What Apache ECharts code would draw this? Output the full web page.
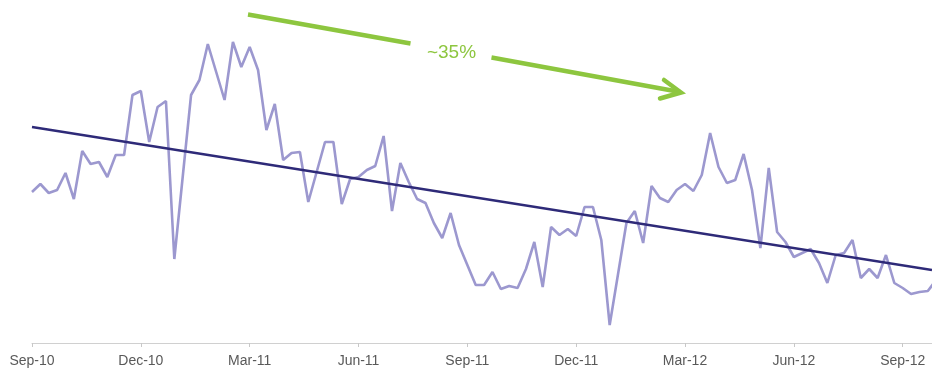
<!DOCTYPE html>
<html>
<head>
<meta charset="utf-8">
<script src="https://cdn.jsdelivr.net/npm/echarts@6/dist/echarts.min.js"></script>
<style>
html,body{margin:0;padding:0;background:#fff;}
#c{width:932px;height:371px;}
</style>
</head>
<body>
<div id="c"></div>
<script>
// Weekly index values (week 0 = start of Sep-10)
var weeklyValues = [151,159,150,153,170,144,192,179,181,166,188,188,248,252,201,236,242,84,166,248,
263,299,271,243,301,276,296,273,213,239,183,190,191,141,171,201,201,139,164,166,
173,177,207,132,180,161,144,140,120,105,130,98,78,58,58,71,54,57,55,74,
101,56,116,108,114,107,136,136,103,18,69,120,132,100,157,145,141,153,159,152,
168,210,176,160,163,189,153,95,175,111,101,86,90,94,80,60,88,90,103,65,
74,65,88,60,55,49,51,52,63];
// Linear trend endpoints: [week, value]
var trendWeeks = [0, 107.5];
var trendValues = [216, 73];
// Quarterly tick labels (every 13 weeks)
var tickLabels = ['Sep-10','Dec-10','Mar-11','Jun-11','Sep-11','Dec-11','Mar-12','Jun-12','Sep-12'];
var annotationText = '~35%';

var weeksPerQuarter = 13;
var tickValues = tickLabels.map(function(_, i){ return i * weeksPerQuarter; });
var seriesData = weeklyValues.map(function(v, i){ return [i, v]; });
var trendData = trendWeeks.map(function(w, i){ return [w, trendValues[i]]; });

var chart = echarts.init(document.getElementById('c'), null, {renderer:'canvas'});
var green = '#8dc63f';
chart.setOption({
  animation: false,
  backgroundColor: '#ffffff',
  grid: {left: 32, right: 0, top: 0, bottom: 28},
  xAxis: {
    type: 'value',
    min: 0,
    max: 107.5,
    axisLine: {show: true, lineStyle: {color: '#d0d0d0', width: 1}},
    axisTick: {show: true, length: 4, lineStyle: {color: '#c8c8c8'}, customValues: tickValues},
    axisLabel: {
      customValues: tickValues,
      margin: 11,
      color: '#595959',
      fontSize: 14,
      fontFamily: 'Liberation Sans, Arial, sans-serif',
      formatter: function(v){ return tickLabels[Math.round(v / weeksPerQuarter)] || ''; }
    },
    splitLine: {show: false}
  },
  yAxis: {
    type: 'value',
    min: 0,
    max: 343,
    show: false,
    splitLine: {show: false}
  },
  series: [
    {
      type: 'line',
      data: seriesData,
      symbol: 'none',
      clip: true,
      lineStyle: {color: '#9c98cf', width: 2.6},
      z: 2
    },
    {
      type: 'line',
      data: trendData,
      symbol: 'none',
      clip: true,
      lineStyle: {color: '#2e2a78', width: 2.5},
      z: 3
    }
  ],
  graphic: [
    {type: 'line', shape: {x1: 248, y1: 14.5, x2: 410.5, y2: 43.5}, style: {stroke: green, lineWidth: 4.5}},
    {type: 'line', shape: {x1: 491.5, y1: 57.5, x2: 680, y2: 92}, style: {stroke: green, lineWidth: 4.5}},
    {type: 'polyline', shape: {points: [[664, 80], [681, 92.5], [660, 98.5]]}, style: {stroke: green, lineWidth: 4.5, fill: null, lineCap: 'round', lineJoin: 'miter'}},
    {type: 'text', x: 451.5, y: 53, style: {text: annotationText, fill: green, font: '19px Liberation Sans, Arial, sans-serif', align: 'center', verticalAlign: 'middle'}}
  ]
});
</script>
</body>
</html>
